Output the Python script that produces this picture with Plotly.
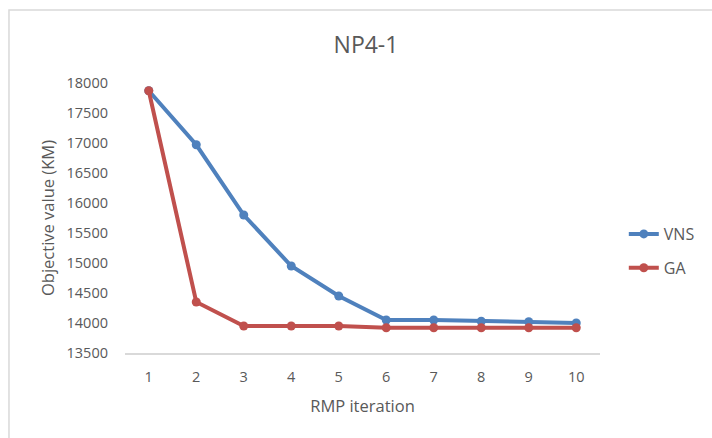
import plotly.graph_objects as go

iterations = [1, 2, 3, 4, 5, 6, 7, 8, 9, 10]
vns = [17870, 16970, 15800, 14950, 14450, 14050, 14050, 14030, 14020, 14000]
ga = [17870, 14350, 13950, 13950, 13950, 13920, 13920, 13920, 13920, 13920]
y_ticks = [13500, 14000, 14500, 15000, 15500, 16000, 16500, 17000, 17500, 18000]

FONT = "Open Sans"
GRAY = "#595959"

fig = go.Figure()
fig.add_trace(go.Scatter(x=[str(i) for i in iterations], y=vns, name="VNS", mode="lines+markers",
                         line=dict(color="#4F81BD", width=4), marker=dict(size=9, color="#4F81BD"),
                         legendgroup="a"))
fig.add_trace(go.Scatter(x=[str(i) for i in iterations], y=ga, name="GA", mode="lines+markers",
                         line=dict(color="#C0504D", width=4), marker=dict(size=9, color="#C0504D"),
                         legendgroup="b"))

L, R, T, B = 125, 108, 83, 85
PW, PH = 712 - L - R, 438 - T - B
fig.update_layout(
    width=712, height=438,
    margin=dict(l=L, r=R, t=T, b=B),
    paper_bgcolor="white", plot_bgcolor="white",
    font=dict(family=FONT, color=GRAY, size=14),
    title=dict(text="NP4-1", x=366/712, xref="container", xanchor="center",
               y=1-45/438, yref="container", yanchor="middle",
               font=dict(size=23, color=GRAY, family=FONT)),
    xaxis=dict(type="category", range=[-0.5, 9.5], showgrid=False, showline=True,
               linecolor="#D9D9D9", linewidth=1.5,
               ticks="", ticklabelstandoff=10, tickfont=dict(size=14.5, color=GRAY),
               title=dict(text="RMP iteration", font=dict(size=16.5, color=GRAY), standoff=15),
               zeroline=False),
    yaxis=dict(range=[13500, 18000], tickvals=y_ticks, ticktext=[str(v) for v in y_ticks],
               showgrid=False, showline=False, zeroline=False,
               ticks="", ticklabelstandoff=16, tickfont=dict(size=14.5, color=GRAY),
               title=dict(text="Objective value (KM)", font=dict(size=16.5, color=GRAY), standoff=7)),
    legend=dict(x=(628-L)/PW, xanchor="left", y=(438-B-217)/PH, yanchor="top",
                font=dict(size=16, color=GRAY), tracegroupgap=10, bgcolor="rgba(0,0,0,0)"),
    shapes=[dict(type="rect", xref="paper", yref="paper",
                 x0=(8-L)/PW, x1=(730-L)/PW,
                 y0=-(B+20)/PH, y1=(438-B-10)/PH,
                 line=dict(color="#D9D9D9", width=1.5), layer="below")],
)
fig.write_html("out.html")
